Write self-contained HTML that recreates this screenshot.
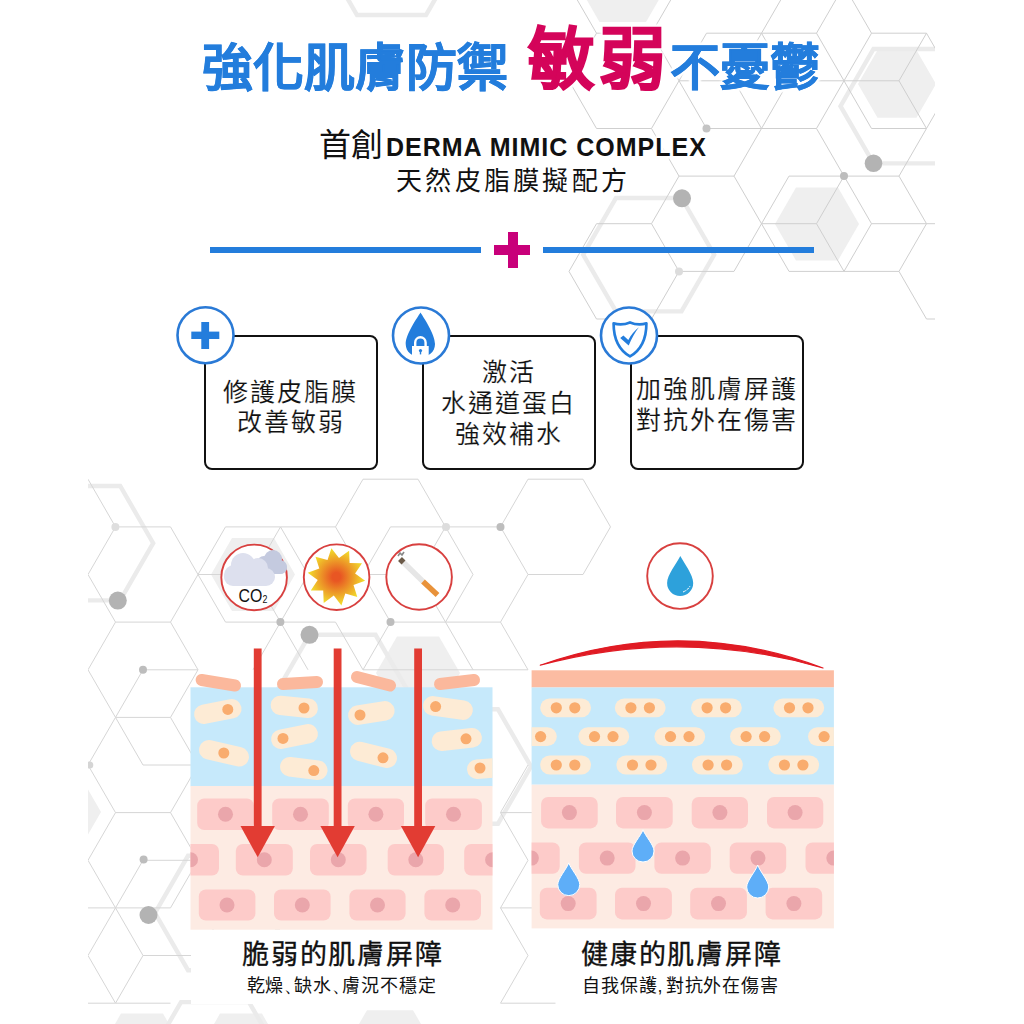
<!DOCTYPE html>
<html lang="zh-TW">
<head>
<meta charset="utf-8">
<style>
html,body{margin:0;padding:0;background:#fff;}
body{width:1024px;height:1024px;position:relative;overflow:hidden;font-family:"Liberation Sans",sans-serif;}
.t{position:absolute;white-space:nowrap;line-height:1;}
svg.l{position:absolute;left:0;top:0;}
.blue{color:#237ddc;font-weight:700;-webkit-text-stroke:0.5px #237ddc;}
.pink{color:#d4045a;font-weight:900;-webkit-text-stroke:1.6px #d4045a;}
.box{position:absolute;border:2.6px solid #111;border-radius:8px;background:#fff;box-sizing:border-box;}
.bt{position:absolute;left:-10px;right:-10px;text-align:center;color:#111;font-size:25px;line-height:30.7px;letter-spacing:2px;-webkit-text-stroke:0.15px #fff;}
.cap{font-size:27px;color:#111;letter-spacing:1.8px;-webkit-text-stroke:0.35px #111;}
.sub{font-size:18px;color:#111;letter-spacing:0.9px;}
.cm{letter-spacing:-8px;}
.cm2{letter-spacing:3px;font-size:18px;}
.halo{text-shadow:3px 0 2px #fff,-3px 0 2px #fff,0 3px 2px #fff,0 -3px 2px #fff,2px 2px 2px #fff,-2px -2px 2px #fff,2px -2px 2px #fff,-2px 2px 2px #fff;}
</style>
</head>
<body>
<svg class="l" width="1024" height="1024" viewBox="0 0 1024 1024">
<defs><clipPath id="bgc"><rect x="88" y="0" width="847" height="1024"/></clipPath></defs>
<g clip-path="url(#bgc)">
<path d="M859.0 224.0 L838.0 260.4 L796.0 260.4 L775.0 224.0 L796.0 187.6 L838.0 187.6Z" fill="#efefef"/>
<path d="M936.0 84.0 L916.5 117.8 L877.5 117.8 L858.0 84.0 L877.5 50.2 L916.5 50.2Z" fill="#efefef"/>
<path d="M669.3 -18.3 L646.0 22.0 L599.5 22.0 L576.3 -18.3 L599.5 -58.6 L646.0 -58.6Z" fill="#efefef"/>
<path d="M714.2 254.7 L681.5 311.4 L616.0 311.4 L583.2 254.7 L616.0 198.0 L681.5 198.0Z" fill="none" stroke="#ebebeb" stroke-width="4.4" stroke-linejoin="miter"/>
<path d="M972.5 106.2 L939.5 163.4 L873.5 163.4 L840.5 106.2 L873.5 49.0 L939.5 49.0Z" fill="none" stroke="#ebebeb" stroke-width="4.4" stroke-linejoin="miter"/>
<path d="M460.5 -44.8 L426.0 15.0 L357.0 15.0 L322.5 -44.8 L357.0 -104.6 L426.0 -104.6Z" fill="none" stroke="#ebebeb" stroke-width="4.4" stroke-linejoin="miter"/>
<path d="M816.5 128.5L844.0 176.1M844.0 271.4L871.5 223.7M569.0 80.8L596.5 128.5M844.0 -14.4L816.5 33.2M761.5 223.7L789.0 271.4M789.0 -14.4L761.5 33.2M679.0 176.1L734.0 176.1M569.0 -14.4L596.5 33.2M706.5 128.5L761.5 128.5M1009.0 271.4L981.5 319.0M734.0 80.8L761.5 128.5M844.0 271.4L899.0 271.4M734.0 271.4L761.5 223.7M981.5 223.7L1009.0 271.4M651.5 33.2L679.0 80.8M596.5 128.5L651.5 128.5M871.5 128.5L926.5 128.5M679.0 176.1L651.5 223.7M651.5 -62.1L679.0 -14.4M844.0 80.8L899.0 80.8M679.0 80.8L706.5 33.2M734.0 176.1L761.5 128.5M899.0 176.1L926.5 128.5M816.5 223.7L844.0 271.4M569.0 271.4L596.5 223.7M596.5 319.0L651.5 319.0M706.5 33.2L761.5 33.2M844.0 80.8L871.5 128.5M844.0 176.1L899.0 176.1M789.0 80.8L761.5 128.5M679.0 271.4L651.5 319.0M789.0 271.4L844.0 271.4M926.5 319.0L981.5 319.0M679.0 -14.4L651.5 33.2M679.0 80.8L734.0 80.8M761.5 33.2L816.5 33.2M844.0 80.8L816.5 128.5M844.0 176.1L871.5 223.7M899.0 271.4L926.5 223.7M899.0 80.8L926.5 33.2M926.5 33.2L954.0 80.8M789.0 176.1L844.0 176.1M734.0 176.1L761.5 223.7M569.0 -14.4L596.5 -62.1M871.5 223.7L926.5 223.7M596.5 223.7L651.5 223.7M596.5 -62.1L651.5 -62.1M569.0 271.4L596.5 319.0M926.5 223.7L981.5 223.7M789.0 -14.4L844.0 -14.4M734.0 80.8L761.5 33.2M789.0 80.8L844.0 80.8M844.0 -14.4L871.5 33.2M651.5 223.7L679.0 271.4M899.0 80.8L926.5 128.5M761.5 223.7L816.5 223.7M899.0 271.4L926.5 319.0M816.5 33.2L844.0 80.8M569.0 80.8L596.5 33.2M761.5 33.2L789.0 80.8M761.5 128.5L816.5 128.5M844.0 80.8L871.5 33.2M679.0 80.8L651.5 128.5M679.0 80.8L706.5 128.5M954.0 80.8L926.5 128.5M789.0 176.1L761.5 223.7M899.0 176.1L926.5 223.7M596.5 33.2L651.5 33.2M871.5 33.2L926.5 33.2M844.0 176.1L816.5 223.7M679.0 271.4L734.0 271.4M651.5 128.5L679.0 176.1" stroke="#cfcfcf" stroke-width="1" fill="none"/>
<circle cx="682" cy="198.3" r="9" fill="#b3b3b3"/>
<circle cx="873.5" cy="163.3" r="8.8" fill="#b3b3b3"/>
<circle cx="844" cy="176.1" r="4" fill="#bdbdbd"/>
<circle cx="706.5" cy="128.5" r="4" fill="#c4c4c4"/>
<circle cx="679" cy="271.4" r="4" fill="#dcdcdc"/>
<path d="M460.0 673.0 L439.0 709.4 L397.0 709.4 L376.0 673.0 L397.0 636.6 L439.0 636.6Z" fill="#efefef"/>
<path d="M101.0 812.0 L80.0 848.4 L38.0 848.4 L17.0 812.0 L38.0 775.6 L80.0 775.6Z" fill="#efefef"/>
<path d="M295.0 574.5 L274.0 610.9 L232.0 610.9 L211.0 574.5 L232.0 538.1 L274.0 538.1Z" fill="#efefef"/>
<path d="M153.2 543.2 L120.2 600.4 L54.2 600.4 L21.2 543.2 L54.2 486.0 L120.2 486.0Z" fill="none" stroke="#ebebeb" stroke-width="4.4" stroke-linejoin="miter"/>
<path d="M408.5 692.0 L375.5 749.2 L309.5 749.2 L276.5 692.0 L309.5 634.8 L375.5 634.8Z" fill="none" stroke="#ebebeb" stroke-width="4.4" stroke-linejoin="miter"/>
<path d="M287.0 913.0 L254.0 970.2 L188.0 970.2 L155.0 913.0 L188.0 855.8 L254.0 855.8Z" fill="none" stroke="#ebebeb" stroke-width="4.4" stroke-linejoin="miter"/>
<path d="M531.0 766.5 L498.0 823.7 L432.0 823.7 L399.0 766.5 L432.0 709.3 L498.0 709.3Z" fill="none" stroke="#ebebeb" stroke-width="4.4" stroke-linejoin="miter"/>
<path d="M473.0 669.8L528.0 669.8M115.5 812.6L88.0 860.3M418.0 574.5L445.5 622.1M115.5 526.9L88.0 574.5M500.5 812.6L528.0 860.3M500.5 907.9L528.0 860.3M500.5 622.1L528.0 574.5M418.0 479.2L445.5 526.9M280.5 622.1L335.5 622.1M390.5 526.9L445.5 526.9M363.0 479.2L418.0 479.2M528.0 574.5L583.0 574.5M88.0 669.8L115.5 717.4M253.0 574.5L280.5 622.1M225.5 526.9L198.0 574.5M280.5 526.9L335.5 526.9M115.5 717.4L143.0 765.0M60.5 907.9L33.0 955.5M500.5 1003.2L555.5 1003.2M390.5 622.1L445.5 622.1M170.5 622.1L198.0 574.5M280.5 526.9L308.0 574.5M198.0 574.5L253.0 574.5M363.0 574.5L390.5 622.1M610.5 526.9L583.0 574.5M500.5 526.9L528.0 479.2M280.5 622.1L308.0 574.5M198.0 860.3L225.5 907.9M280.5 526.9L253.0 574.5M115.5 907.9L143.0 955.5M500.5 907.9L555.5 907.9M115.5 812.6L170.5 812.6M390.5 622.1L363.0 669.8M198.0 574.5L225.5 622.1M528.0 479.2L583.0 479.2M115.5 907.9L143.0 860.3M115.5 1003.2L143.0 955.5M143.0 765.0L198.0 765.0M88.0 574.5L115.5 622.1M363.0 669.8L418.0 669.8M280.5 622.1L253.0 669.8M60.5 907.9L115.5 907.9M115.5 717.4L143.0 669.8M88.0 765.0L115.5 812.6M500.5 812.6L555.5 812.6M390.5 526.9L363.0 574.5M445.5 526.9L500.5 526.9M335.5 622.1L363.0 669.8M445.5 622.1L500.5 622.1M445.5 622.1L473.0 669.8M583.0 479.2L610.5 526.9M143.0 669.8L198.0 669.8M445.5 526.9L473.0 574.5M500.5 526.9L528.0 574.5M363.0 574.5L418.0 574.5M225.5 622.1L280.5 622.1M115.5 526.9L170.5 526.9M170.5 812.6L198.0 860.3M225.5 907.9L198.0 955.5M170.5 526.9L198.0 574.5M170.5 907.9L198.0 860.3M225.5 526.9L280.5 526.9M500.5 907.9L528.0 955.5M115.5 1003.2L170.5 1003.2M445.5 526.9L418.0 574.5M60.5 1003.2L115.5 1003.2M500.5 812.6L528.0 765.0M335.5 526.9L363.0 574.5M170.5 812.6L198.0 765.0M445.5 622.1L473.0 574.5M143.0 860.3L198.0 860.3M115.5 907.9L170.5 907.9M170.5 717.4L198.0 669.8M143.0 955.5L198.0 955.5M170.5 622.1L198.0 669.8M115.5 622.1L88.0 669.8M170.5 717.4L198.0 765.0M115.5 717.4L170.5 717.4M500.5 622.1L528.0 669.8M115.5 907.9L88.0 955.5M88.0 955.5L115.5 1003.2M500.5 1003.2L528.0 955.5M418.0 669.8L473.0 669.8M115.5 622.1L170.5 622.1M335.5 526.9L363.0 479.2M280.5 622.1L308.0 669.8M88.0 479.2L115.5 526.9M115.5 717.4L88.0 765.0M88.0 860.3L115.5 907.9M33.0 955.5L60.5 1003.2" stroke="#d6d6d6" stroke-width="1" fill="none"/>
<circle cx="117.8" cy="600.6" r="9" fill="#b3b3b3"/>
<circle cx="309.5" cy="634.8" r="9" fill="#b3b3b3"/>
<circle cx="148.5" cy="915" r="9" fill="#b3b3b3"/>
<circle cx="115.4" cy="526.9" r="4" fill="#dedede"/>
<circle cx="143" cy="669.7" r="4" fill="#bdbdbd"/>
<circle cx="280.4" cy="622.1" r="4" fill="#bdbdbd"/>
<circle cx="143.6" cy="859.6" r="4" fill="#bdbdbd"/>
<circle cx="89.8" cy="765" r="3.5" fill="#d5d5d5"/>
<circle cx="446" cy="527" r="4" fill="#dddddd"/>
<circle cx="390.5" cy="622.1" r="4" fill="#bdbdbd"/>
<path d="M184.0 1050.0 L163.0 1086.4 L121.0 1086.4 L100.0 1050.0 L121.0 1013.6 L163.0 1013.6Z" fill="#efefef"/>
<path d="M283.0 1050.0 L262.0 1086.4 L220.0 1086.4 L199.0 1050.0 L220.0 1013.6 L262.0 1013.6Z" fill="#efefef"/>
<path d="M436.0 1050.0 L413.0 1089.8 L367.0 1089.8 L344.0 1050.0 L367.0 1010.2 L413.0 1010.2Z" fill="#efefef"/>
<path d="M283.0 1061.0 L249.0 1119.9 L181.0 1119.9 L147.0 1061.0 L181.0 1002.1 L249.0 1002.1Z" fill="none" stroke="#ebebeb" stroke-width="4.4" stroke-linejoin="miter"/>
<circle cx="500.5" cy="527" r="4" fill="#bdbdbd"/>
</g>
</svg>

<div class="t blue halo" style="left:202px;top:43px;font-size:51px;">強化肌膚防禦</div>
<div class="t pink halo" style="left:528px;top:26.5px;font-size:66.5px;letter-spacing:4.8px;">敏弱</div>
<div class="t blue halo" style="left:670px;top:43px;font-size:50px;">不憂鬱</div>

<div class="t halo" style="left:319px;top:129px;font-size:32px;color:#111;">首創</div>
<div class="t halo" style="left:386px;top:135px;font-size:25px;color:#111;font-weight:700;letter-spacing:1.0px;">DERMA MIMIC COMPLEX</div>
<div class="t halo" style="left:396px;top:168px;font-size:26px;color:#111;letter-spacing:3.3px;">天然皮脂膜擬配方</div>

<div style="position:absolute;left:210px;top:247px;width:271px;height:6px;background:#237ddc;"></div>
<div style="position:absolute;left:543px;top:247px;width:271px;height:6px;background:#237ddc;"></div>
<div style="position:absolute;left:494.4px;top:245.2px;width:36px;height:9.5px;background:#c8007a;"></div>
<div style="position:absolute;left:507.6px;top:232.2px;width:10.2px;height:35.7px;background:#c8007a;"></div>

<div class="box" style="left:204px;top:335px;width:173.6px;height:135px;">
  <div class="bt" style="top:39.5px;">修護皮脂膜<br>改善敏弱</div>
</div>
<div class="box" style="left:422px;top:335px;width:173.6px;height:135px;">
  <div class="bt" style="top:20.3px;">激活<br>水通道蛋白<br>強效補水</div>
</div>
<div class="box" style="left:630px;top:335px;width:173.6px;height:135px;">
  <div class="bt" style="top:37px;">加強肌膚屏護<br>對抗外在傷害</div>
</div>

<svg class="l" width="1024" height="1024" viewBox="0 0 1024 1024">
  <circle cx="205.5" cy="335.2" r="28" fill="#fff" stroke="#2a7ad6" stroke-width="2.6"/>
  <rect x="191.3" y="331.6" width="28" height="7.4" fill="#237ddc"/>
  <rect x="201.3" y="322" width="7.8" height="27" fill="#237ddc"/>

  <circle cx="421" cy="335.5" r="28" fill="#fff" stroke="#2a7ad6" stroke-width="2.6"/>
  <path d="M420.5 312.4 C424 318 435 334 435 344 C435 352 428.5 357 420.5 357 C412.5 357 405.7 352 405.7 344 C405.7 334 417 318 420.5 312.4 Z" fill="#237ddc"/>
  <path d="M415.2 347 L415.2 342.5 A5.2 5.2 0 0 1 425.6 342.5 L425.6 347" fill="none" stroke="#fff" stroke-width="2.4"/>
  <rect x="412" y="346" width="16.7" height="11.2" fill="#fff"/>
  <circle cx="420.5" cy="350.6" r="1.6" fill="#237ddc"/><rect x="419.8" y="350.6" width="1.4" height="3.8" fill="#237ddc"/>

  <circle cx="629" cy="335.5" r="28" fill="#fff" stroke="#2a7ad6" stroke-width="2.6"/>
  <path d="M613.6 323.4 C618 324.6 625 324.5 630 322.4 C635 324.5 642 324.6 646.4 323.4 C646.4 338 641 350 630 356.4 C619 350 613.6 338 613.6 323.4 Z" fill="none" stroke="#237ddc" stroke-width="2.7" stroke-linejoin="round"/>
  <path d="M620.2 338 L623.4 335.6 L628.3 340 C631 335 634.5 330.5 638.9 327.3 C635 332 631.5 339 628.7 345.6 Z" fill="#237ddc"/>
  <svg x="0" y="0" width="1024" height="1024" overflow="visible">
<defs><radialGradient id="sun" cx="0.5" cy="0.5" r="0.5"><stop offset="0.15" stop-color="#e85623"/><stop offset="1" stop-color="#f2e02c"/></radialGradient></defs>
<circle cx="254.1" cy="577.4" r="32.8" fill="#fff" stroke="#d8403f" stroke-width="1.9"/>
<circle cx="336.6" cy="577.2" r="32.8" fill="#fff" stroke="#d8403f" stroke-width="1.9"/>
<circle cx="419.1" cy="577" r="32.8" fill="#fff" stroke="#d8403f" stroke-width="1.9"/>
<circle cx="680" cy="576.1" r="32.8" fill="#fff" stroke="#d8403f" stroke-width="1.9"/>
<g fill="#c4cadf"><circle cx="264" cy="563" r="7"/><circle cx="273" cy="559" r="9"/><circle cx="280" cy="567" r="7"/><rect x="257" y="561" width="30" height="13" rx="6.5"/></g>
<g fill="#dde0ee"><circle cx="243" cy="565" r="12"/><circle cx="258" cy="568" r="10"/><rect x="224" y="568" width="51" height="18" rx="9"/><circle cx="234" cy="575" r="10"/></g>
<text x="238.5" y="602.2" font-family="Liberation Sans" font-size="18" fill="#111" textLength="29" lengthAdjust="spacingAndGlyphs">CO<tspan font-size="10" dx="0.3" dy="0.5">2</tspan></text>
<polygon points="331.4,548.2 339.0,558.0 349.1,550.7 349.6,563.1 362.0,563.2 355.1,573.5 365.1,580.8 353.5,585.1 357.3,596.9 345.3,593.6 341.4,605.4 333.8,595.6 323.7,602.9 323.2,590.5 310.8,590.4 317.7,580.1 307.7,572.8 319.3,568.5 315.5,556.7 327.5,560.0" fill="url(#sun)"/>
<line x1="402" y1="561" x2="423" y2="581.5" stroke="#e6e6e6" stroke-width="5.5"/>
<line x1="423" y1="581.5" x2="437.5" y2="595" stroke="#e8923a" stroke-width="5.5"/>
<line x1="400" y1="559" x2="403.5" y2="562.5" stroke="#6b5a48" stroke-width="5.5"/>
<path d="M398 556 l2 -3 l2 2 l2 -3" stroke="#888" stroke-width="1.6" fill="none"/>
<path d="M680.3 556.1 C684 563 693.2 575 693.2 583 A13.05 13.05 0 0 1 667.1 583 C667.1 575 677 563 680.3 556.1 Z" fill="#2da1db"/>
<path d="M683 592 Q688 590 690 586" stroke="#fff" stroke-width="1" fill="none" stroke-dasharray="3 1"/>
</svg>
  <svg x="0" y="0" width="1024" height="1024" overflow="visible">
<defs><clipPath id="cl"><rect x="190.5" y="600" width="302" height="330"/></clipPath></defs>
<rect x="190.5" y="687.3" width="302.0" height="99" fill="#c6e9fb"/>
<rect x="190.5" y="786" width="302.0" height="143.7" fill="#fdebe3"/>
<g clip-path="url(#cl)">
<rect x="197.2" y="798.4" width="56.6" height="31.6" rx="7" fill="#fdcbc9"/>
<circle cx="225.5" cy="814.2" r="7.5" fill="#eaa6ab" />
<rect x="272.2" y="798.4" width="56.6" height="31.6" rx="7" fill="#fdcbc9"/>
<circle cx="300.5" cy="814.2" r="7.5" fill="#eaa6ab" />
<rect x="347.8" y="798.4" width="56.2" height="31.6" rx="7" fill="#fdcbc9"/>
<circle cx="375.9" cy="814.2" r="7.5" fill="#eaa6ab" />
<rect x="425.2" y="798.4" width="56.7" height="31.6" rx="7" fill="#fdcbc9"/>
<circle cx="453.5" cy="814.2" r="7.5" fill="#eaa6ab" />
<rect x="162.0" y="844.0" width="57.0" height="31.6" rx="7" fill="#fdcbc9"/>
<circle cx="190.5" cy="859.8" r="7.5" fill="#eaa6ab" />
<rect x="235.8" y="844.0" width="57.0" height="31.6" rx="7" fill="#fdcbc9"/>
<circle cx="264.3" cy="859.8" r="7.5" fill="#eaa6ab" />
<rect x="310.0" y="844.0" width="56.6" height="31.6" rx="7" fill="#fdcbc9"/>
<circle cx="338.3" cy="859.8" r="7.5" fill="#eaa6ab" />
<rect x="387.7" y="844.0" width="56.2" height="31.6" rx="7" fill="#fdcbc9"/>
<circle cx="415.8" cy="859.8" r="7.5" fill="#eaa6ab" />
<rect x="464.2" y="844.0" width="56.8" height="31.6" rx="7" fill="#fdcbc9"/>
<circle cx="492.6" cy="859.8" r="7.5" fill="#eaa6ab" />
<rect x="198.8" y="889.4" width="56.6" height="31.2" rx="7" fill="#fdcbc9"/>
<circle cx="227.0" cy="905.0" r="7.5" fill="#eaa6ab" />
<rect x="274.0" y="889.4" width="56.6" height="31.2" rx="7" fill="#fdcbc9"/>
<circle cx="302.3" cy="905.0" r="7.5" fill="#eaa6ab" />
<rect x="349.4" y="889.4" width="56.2" height="31.2" rx="7" fill="#fdcbc9"/>
<circle cx="377.5" cy="905.0" r="7.5" fill="#eaa6ab" />
<rect x="424.4" y="889.4" width="56.6" height="31.2" rx="7" fill="#fdcbc9"/>
<circle cx="452.7" cy="905.0" r="7.5" fill="#eaa6ab" />
<line x1="203.8" y1="714.2" x2="231.8" y2="708.8" stroke="#fdebd5" stroke-width="19.5" stroke-linecap="round"/>
<circle cx="227.8" cy="709.4" r="5.5" fill="#f9ac6e" />
<line x1="208.8" y1="749.8" x2="239.2" y2="756.8" stroke="#fdebd5" stroke-width="19.5" stroke-linecap="round"/>
<circle cx="223.8" cy="753.0" r="5.5" fill="#f9ac6e" />
<line x1="280.4" y1="705.4" x2="308.2" y2="708.2" stroke="#fdebd5" stroke-width="19.5" stroke-linecap="round"/>
<circle cx="304.0" cy="708.0" r="5.5" fill="#f9ac6e" />
<line x1="280.8" y1="739.2" x2="308.2" y2="733.8" stroke="#fdebd5" stroke-width="19.5" stroke-linecap="round"/>
<circle cx="283.0" cy="738.4" r="5.5" fill="#f9ac6e" />
<line x1="289.8" y1="766.8" x2="317.8" y2="770.2" stroke="#fdebd5" stroke-width="19.5" stroke-linecap="round"/>
<circle cx="313.8" cy="770.6" r="5.5" fill="#f9ac6e" />
<line x1="357.8" y1="715.2" x2="384.9" y2="710.8" stroke="#fdebd5" stroke-width="19.5" stroke-linecap="round"/>
<circle cx="360.0" cy="715.0" r="5.5" fill="#f9ac6e" />
<line x1="359.8" y1="751.4" x2="387.2" y2="758.2" stroke="#fdebd5" stroke-width="19.5" stroke-linecap="round"/>
<circle cx="383.0" cy="757.8" r="5.5" fill="#f9ac6e" />
<line x1="432.8" y1="705.8" x2="463.1" y2="710.2" stroke="#fdebd5" stroke-width="19.5" stroke-linecap="round"/>
<circle cx="435.6" cy="706.6" r="5.5" fill="#f9ac6e" />
<line x1="441.4" y1="741.2" x2="472.2" y2="737.8" stroke="#fdebd5" stroke-width="19.5" stroke-linecap="round"/>
<circle cx="466.0" cy="738.8" r="5.5" fill="#f9ac6e" />
<line x1="476.8" y1="769.2" x2="510.2" y2="766.8" stroke="#fdebd5" stroke-width="19.5" stroke-linecap="round"/>
<circle cx="480.0" cy="768.0" r="5.5" fill="#f9ac6e" />
</g>
<line x1="201.6" y1="680.0" x2="235.0" y2="685.5" stroke="#fbb89c" stroke-width="12" stroke-linecap="round"/>
<line x1="283.0" y1="684.0" x2="317.0" y2="682.0" stroke="#fbb89c" stroke-width="12" stroke-linecap="round"/>
<line x1="357.0" y1="677.0" x2="390.0" y2="685.5" stroke="#fbb89c" stroke-width="12" stroke-linecap="round"/>
<line x1="440.0" y1="684.0" x2="474.0" y2="680.0" stroke="#fbb89c" stroke-width="12" stroke-linecap="round"/>
<rect x="253.8" y="648.5" width="7.8" height="180" fill="#e23c33"/>
<path d="M240.5 826 L274.9 826 L257.7 857.3 Z" fill="#e23c33"/>
<rect x="333.7" y="648.5" width="7.8" height="180" fill="#e23c33"/>
<path d="M320.4 826 L354.8 826 L337.6 857.3 Z" fill="#e23c33"/>
<rect x="414.2" y="648.5" width="7.8" height="180" fill="#e23c33"/>
<path d="M400.9 826 L435.3 826 L418.1 857.3 Z" fill="#e23c33"/>
</svg>
  <svg x="0" y="0" width="1024" height="1024" overflow="visible">
<defs><clipPath id="cr"><rect x="531.6" y="600" width="302.3" height="330"/></clipPath></defs>
<rect x="531.6" y="670.3" width="302.29999999999995" height="17.2" fill="#fcbca2"/>
<rect x="531.6" y="687.5" width="302.29999999999995" height="97.2" fill="#c6e9fb"/>
<rect x="531.6" y="784.7" width="302.29999999999995" height="143.7" fill="#fdebe3"/>
<g clip-path="url(#cr)">
<rect x="541.1" y="796.9" width="56.6" height="31.5" rx="7" fill="#fdcbc9"/>
<circle cx="569.4" cy="812.6" r="7.5" fill="#eaa6ab" />
<rect x="616.0" y="796.9" width="56.7" height="31.5" rx="7" fill="#fdcbc9"/>
<circle cx="644.4" cy="812.6" r="7.5" fill="#eaa6ab" />
<rect x="691.7" y="796.9" width="56.3" height="31.5" rx="7" fill="#fdcbc9"/>
<circle cx="719.9" cy="812.6" r="7.5" fill="#eaa6ab" />
<rect x="767.0" y="796.9" width="56.3" height="31.5" rx="7" fill="#fdcbc9"/>
<circle cx="795.1" cy="812.6" r="7.5" fill="#eaa6ab" />
<rect x="503.0" y="842.5" width="56.7" height="31.2" rx="7" fill="#fdcbc9"/>
<circle cx="531.4" cy="858.1" r="7.5" fill="#eaa6ab" />
<rect x="578.9" y="842.5" width="56.6" height="31.2" rx="7" fill="#fdcbc9"/>
<circle cx="607.2" cy="858.1" r="7.5" fill="#eaa6ab" />
<rect x="654.4" y="842.5" width="56.4" height="31.2" rx="7" fill="#fdcbc9"/>
<circle cx="682.6" cy="858.1" r="7.5" fill="#eaa6ab" />
<rect x="729.7" y="842.5" width="56.5" height="31.2" rx="7" fill="#fdcbc9"/>
<circle cx="758.0" cy="858.1" r="7.5" fill="#eaa6ab" />
<rect x="805.5" y="842.5" width="56.5" height="31.2" rx="7" fill="#fdcbc9"/>
<circle cx="833.8" cy="858.1" r="7.5" fill="#eaa6ab" />
<rect x="539.8" y="887.8" width="56.8" height="31.6" rx="7" fill="#fdcbc9"/>
<circle cx="568.2" cy="903.6" r="7.5" fill="#eaa6ab" />
<rect x="615.0" y="887.8" width="56.9" height="31.6" rx="7" fill="#fdcbc9"/>
<circle cx="643.5" cy="903.6" r="7.5" fill="#eaa6ab" />
<rect x="690.2" y="887.8" width="56.7" height="31.6" rx="7" fill="#fdcbc9"/>
<circle cx="718.5" cy="903.6" r="7.5" fill="#eaa6ab" />
<rect x="765.6" y="887.8" width="56.6" height="31.6" rx="7" fill="#fdcbc9"/>
<circle cx="793.9" cy="903.6" r="7.5" fill="#eaa6ab" />
<rect x="540.2" y="698.4" width="50.8" height="18.8" rx="9.4" fill="#fdebd5"/>
<circle cx="556.3" cy="707.8" r="5.6" fill="#f9ac6e" />
<circle cx="574.8" cy="707.8" r="5.6" fill="#f9ac6e" />
<rect x="614.8" y="698.4" width="50.8" height="18.8" rx="9.4" fill="#fdebd5"/>
<circle cx="630.9" cy="707.8" r="5.6" fill="#f9ac6e" />
<circle cx="649.4" cy="707.8" r="5.6" fill="#f9ac6e" />
<rect x="691.0" y="698.4" width="50.8" height="18.8" rx="9.4" fill="#fdebd5"/>
<circle cx="707.1" cy="707.8" r="5.6" fill="#f9ac6e" />
<circle cx="725.6" cy="707.8" r="5.6" fill="#f9ac6e" />
<rect x="773.4" y="698.4" width="50.8" height="18.8" rx="9.4" fill="#fdebd5"/>
<circle cx="789.5" cy="707.8" r="5.6" fill="#f9ac6e" />
<circle cx="808.0" cy="707.8" r="5.6" fill="#f9ac6e" />
<rect x="506.0" y="727.2" width="50.8" height="18.8" rx="9.4" fill="#fdebd5"/>
<circle cx="522.1" cy="736.6" r="5.6" fill="#f9ac6e" />
<circle cx="540.6" cy="736.6" r="5.6" fill="#f9ac6e" />
<rect x="578.4" y="727.2" width="50.8" height="18.8" rx="9.4" fill="#fdebd5"/>
<circle cx="594.5" cy="736.6" r="5.6" fill="#f9ac6e" />
<circle cx="613.0" cy="736.6" r="5.6" fill="#f9ac6e" />
<rect x="654.4" y="727.2" width="50.8" height="18.8" rx="9.4" fill="#fdebd5"/>
<circle cx="670.5" cy="736.6" r="5.6" fill="#f9ac6e" />
<circle cx="689.0" cy="736.6" r="5.6" fill="#f9ac6e" />
<rect x="730.0" y="727.2" width="50.8" height="18.8" rx="9.4" fill="#fdebd5"/>
<circle cx="746.1" cy="736.6" r="5.6" fill="#f9ac6e" />
<circle cx="764.6" cy="736.6" r="5.6" fill="#f9ac6e" />
<rect x="808.0" y="727.2" width="50.8" height="18.8" rx="9.4" fill="#fdebd5"/>
<circle cx="824.1" cy="736.6" r="5.6" fill="#f9ac6e" />
<circle cx="842.6" cy="736.6" r="5.6" fill="#f9ac6e" />
<rect x="540.2" y="755.6" width="50.8" height="18.8" rx="9.4" fill="#fdebd5"/>
<circle cx="556.3" cy="765.0" r="5.6" fill="#f9ac6e" />
<circle cx="574.8" cy="765.0" r="5.6" fill="#f9ac6e" />
<rect x="616.4" y="755.6" width="50.8" height="18.8" rx="9.4" fill="#fdebd5"/>
<circle cx="632.5" cy="765.0" r="5.6" fill="#f9ac6e" />
<circle cx="651.0" cy="765.0" r="5.6" fill="#f9ac6e" />
<rect x="692.0" y="755.6" width="50.8" height="18.8" rx="9.4" fill="#fdebd5"/>
<circle cx="708.1" cy="765.0" r="5.6" fill="#f9ac6e" />
<circle cx="726.6" cy="765.0" r="5.6" fill="#f9ac6e" />
<rect x="768.3" y="755.6" width="50.8" height="18.8" rx="9.4" fill="#fdebd5"/>
<circle cx="784.4" cy="765.0" r="5.6" fill="#f9ac6e" />
<circle cx="802.9" cy="765.0" r="5.6" fill="#f9ac6e" />
</g>
<path d="M568.75 862.8 C570.75 868.8 579.75 878.6 579.75 884.6 A11.0 11.0 0 0 1 557.75 884.6 C557.75 878.6 566.75 868.8 568.75 862.8 Z" fill="#5eaef8" stroke="#fff" stroke-width="1"/>
<path d="M643 829.7 C645 835.7 654.0 845.0 654.0 851.0 A11.0 11.0 0 0 1 632.0 851.0 C632.0 845.0 641 835.7 643 829.7 Z" fill="#5eaef8" stroke="#fff" stroke-width="1"/>
<path d="M757.7 865 C759.7 871 768.7 881.0 768.7 887.0 A11.0 11.0 0 0 1 746.7 887.0 C746.7 881.0 755.7 871 757.7 865 Z" fill="#5eaef8" stroke="#fff" stroke-width="1"/>
<path d="M540.2 665.2 Q682 615 823 668 Q682 627 540.2 665.2 Z" fill="#e01b24" stroke="#e01b24" stroke-width="1.2" stroke-linejoin="round"/>
</svg>
</svg>

<div style="position:absolute;left:191px;top:930px;width:301px;height:74px;background:#fff;"></div>
<div class="t halo cap" style="left:242px;top:941.5px;">脆弱的肌膚屏障</div>
<div class="t halo sub" style="left:246.5px;top:977px;">乾燥<span class="cm" lang="ja">、</span>缺水<span class="cm" lang="ja">、</span>膚況不穩定</div>
<div class="t halo cap" style="left:581px;top:941.5px;">健康的肌膚屏障</div>
<div class="t halo sub" style="left:582px;top:977px;">自我保護<span class="cm2">,</span>對抗外在傷害</div>
</body>
</html>
